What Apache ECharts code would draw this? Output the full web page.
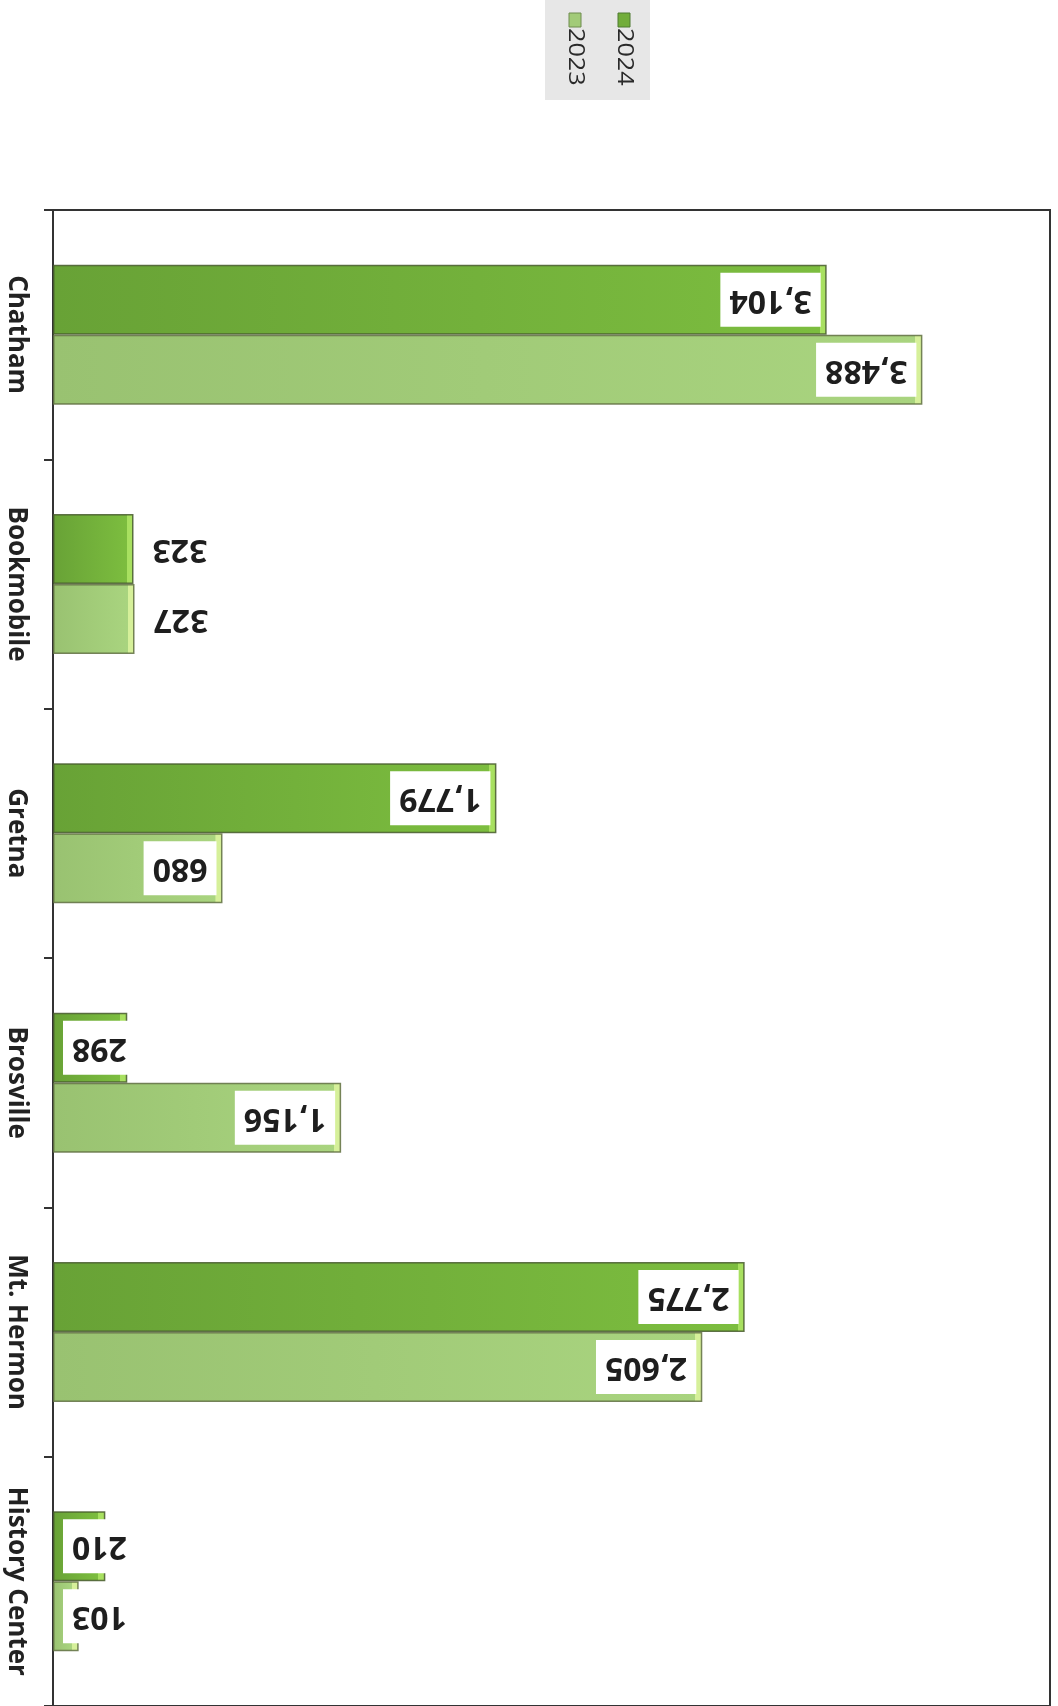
<!DOCTYPE html>
<html>
<head>
<meta charset="utf-8">
<title>Branch counts 2023 vs 2024</title>
<script src="https://cdn.jsdelivr.net/npm/echarts@6/dist/echarts.min.js"></script>
<style>
  html, body { margin: 0; padding: 0; background: #fff; }
  #chart { width: 1058px; height: 1706px; }
</style>
</head>
<body>
<div id="chart"></div>
<script>
var categories = ['Chatham', 'Bookmobile', 'Gretna', 'Brosville', 'Mt. Hermon', 'History Center']
var years = ['2024', '2023']
var values2024 = [3104, 323, 1779, 298, 2775, 210]
var values2023 = [3488, 327, 680, 1156, 2605, 103]

var chart = echarts.init(document.getElementById('chart'))

// px per unit along the value axis (997px plot / 4000)
var pxPerUnit = 997 / 4000

// horizontal gradient with a light bevel strip at the bar's end
function barColor(v, from, to, edge) {
  var cut = Math.max(0.5, 1 - 7 / (v * pxPerUnit))
  return new echarts.graphic.LinearGradient(0, 0, 1, 0, [
    { offset: 0, color: from },
    { offset: cut, color: to },
    { offset: cut + 0.0001, color: edge },
    { offset: 1, color: edge }
  ])
}

// labels are upside down in the scan, so rotate 180 and flip the align
function labelFor(v) {
  if (v < 300) return { position: 'insideLeft', distance: 10, align: 'right' }
  if (v < 400) return { position: 'right', distance: 10, align: 'right' }
  return { position: 'insideRight', distance: 6, align: 'left' }
}

function toData(values, from, to, edge) {
  return values.map(function (v) {
    return {
      value: v,
      label: labelFor(v),
      itemStyle: { color: barColor(v, from, to, edge) }
    }
  })
}

var labelStyle = {
  show: true,
  rotate: 180,
  verticalAlign: 'middle',
  fontFamily: 'Open Sans',
  fontWeight: 'bold',
  fontSize: 32,
  lineHeight: 36,
  color: '#1e1e1e',
  backgroundColor: '#fff',
  padding: [9, 9],
  formatter: function (p) {
    return p.value.toLocaleString('en-US')
  }
}

chart.setOption({
  backgroundColor: '#fff',
  animation: false,
  grid: {
    left: 53,
    right: 8,
    top: 210,
    bottom: -2,
    show: true,
    borderColor: '#333',
    borderWidth: 2
  },
  xAxis: {
    type: 'value',
    min: 0,
    max: 4000,
    show: false
  },
  yAxis: {
    type: 'category',
    data: categories,
    inverse: true,
    axisLine: { show: true, lineStyle: { color: '#333', width: 2 } },
    axisTick: { show: true, length: 9, lineStyle: { color: '#333', width: 2 } },
    axisLabel: {
      rotate: -90,
      margin: 24,
      fontFamily: 'Open Sans',
      fontWeight: 'bold',
      fontSize: 26,
      color: '#222'
    }
  },
  series: [{
    name: years[0],
    type: 'bar',
    barWidth: 70,
    barGap: '0%',
    itemStyle: {
      color: '#72ad3a',
      borderColor: 'rgba(70,90,45,0.85)',
      borderWidth: 1.5
    },
    label: labelStyle,
    data: toData(values2024, '#68a236', '#7cbd3f', '#a8e060')
  },
  {
    name: years[1],
    type: 'bar',
    barWidth: 70,
    barGap: '0%',
    itemStyle: {
      color: '#a2cb78',
      borderColor: 'rgba(95,110,65,0.85)',
      borderWidth: 1.5
    },
    label: labelStyle,
    data: toData(values2023, '#99c271', '#a9d47f', '#d6f09a')
  }],
  // legend is rotated in the scan, so it is drawn by hand
  graphic: [
    { type: 'rect', left: 545, top: 0, shape: { width: 105, height: 100 }, style: { fill: '#e7e7e7' } },
    { type: 'rect', x: 618, y: 13, shape: { width: 12, height: 14 }, style: { fill: '#72ad3a', stroke: '#4f7a30', lineWidth: 1 } },
    { type: 'rect', x: 569, y: 13, shape: { width: 12, height: 14 }, style: { fill: '#a2cb78', stroke: '#6e8c4e', lineWidth: 1 } },
    {
      type: 'text', x: 624, y: 28, rotation: -Math.PI / 2, scaleX: 1.2,
      style: { text: years[0], font: '21px "Open Sans"', fill: '#2a2a2a', textAlign: 'left', textVerticalAlign: 'middle' }
    },
    {
      type: 'text', x: 575, y: 28, rotation: -Math.PI / 2, scaleX: 1.2,
      style: { text: years[1], font: '21px "Open Sans"', fill: '#2a2a2a', textAlign: 'left', textVerticalAlign: 'middle' }
    }
  ]
})
</script>
</body>
</html>
